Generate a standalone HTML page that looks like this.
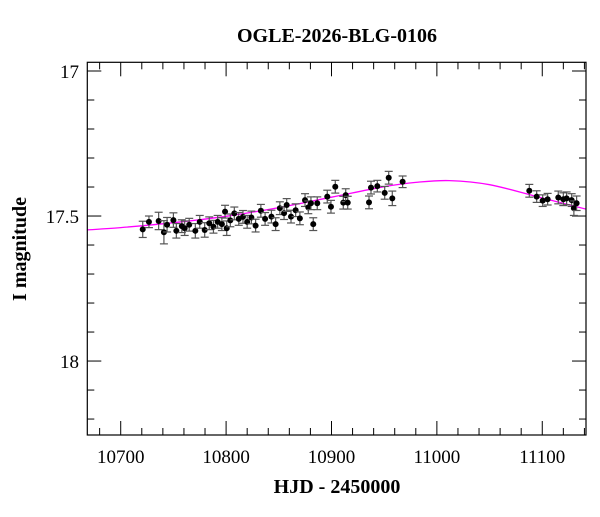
<!DOCTYPE html>
<html><head><meta charset="utf-8"><style>
body{margin:0;background:#fff;}
svg text{font-family:"Liberation Serif",serif;fill:#000;}
</style></head><body>
<svg id="chart" width="600" height="512" xmlns="http://www.w3.org/2000/svg">
<rect width="600" height="512" fill="#fff"/>
<text x="337" y="42" text-anchor="middle" font-size="20" font-weight="bold">OGLE-2026-BLG-0106</text>
<text x="337" y="493" text-anchor="middle" font-size="20" font-weight="bold">HJD - 2450000</text>
<text transform="translate(26,249) rotate(-90)" text-anchor="middle" font-size="20" font-weight="bold">I magnitude</text>
<g id="ticks"></g>
<g id="model"></g>
<g id="pts"></g>
<rect x="87.3" y="62.3" width="498.7" height="372.7" fill="none" stroke="#000" stroke-width="1.2"/>
</svg>
<script>
const hjd=[10720.9,10726.8,10736,10741,10744,10750,10752.8,10758,10760.7,10765,10770.8,10775,10779.7,10784,10788,10792,10796,10799,10800.6,10804,10807.8,10812,10816,10820,10824,10828,10833,10837,10843,10847,10851,10855,10857.5,10861.6,10866,10870,10874.9,10878,10880.5,10882.7,10886.5,10896,10899.5,10903.6,10911.2,10913.5,10915.4,10935.6,10937.5,10943.5,10950.5,10954.3,10957.7,10967.5,11087.7,11094.7,11100.4,11105.1,11115.2,11120,11123.1,11127.9,11130,11132.6];
const mag=[17.546,17.52,17.517,17.556,17.53,17.514,17.551,17.535,17.542,17.53,17.551,17.52,17.548,17.525,17.537,17.52,17.528,17.485,17.542,17.515,17.491,17.51,17.503,17.52,17.505,17.533,17.482,17.51,17.502,17.528,17.473,17.49,17.462,17.502,17.48,17.508,17.445,17.47,17.456,17.528,17.456,17.433,17.468,17.399,17.454,17.428,17.454,17.453,17.402,17.397,17.42,17.368,17.439,17.382,17.413,17.433,17.447,17.442,17.436,17.442,17.439,17.445,17.473,17.456];
const err=[0.028,0.02,0.03,0.04,0.025,0.025,0.025,0.022,0.025,0.022,0.025,0.022,0.025,0.022,0.022,0.022,0.022,0.022,0.025,0.022,0.022,0.022,0.022,0.022,0.022,0.022,0.022,0.022,0.022,0.022,0.022,0.022,0.022,0.022,0.022,0.022,0.022,0.022,0.022,0.022,0.022,0.022,0.022,0.022,0.022,0.022,0.022,0.022,0.022,0.02,0.022,0.022,0.025,0.02,0.022,0.02,0.02,0.02,0.022,0.022,0.022,0.022,0.025,0.025];
const modelT=[10650,10700,10750,10800,10850,10900,10950,10980,11012,11050,11100,11150];
const modelM=[17.552,17.54,17.523,17.501,17.471,17.435,17.399,17.384,17.378,17.392,17.438,17.484];
const xTicks=[10700,10800,10900,11000,11100];
const yTicks=[17,17.5,18];
const X0=10668.3,X1=11141.5,PX0=87.3,PX1=586;
const Y0=16.97,Y1=18.255,PY0=62.3,PY1=435;
function sx(v){return PX0+(v-X0)/(X1-X0)*(PX1-PX0);}
function sy(v){return PY0+(v-Y0)/(Y1-Y0)*(PY1-PY0);}
const NS="http://www.w3.org/2000/svg";
function mk(tag,attrs,parent){const e=document.createElementNS(NS,tag);for(const k in attrs)e.setAttribute(k,attrs[k]);parent.appendChild(e);return e;}
const tg=document.getElementById('ticks');
for(let v=10680;v<=11140;v+=20){
  const maj=xTicks.includes(v);const L=maj?14:7;const x=sx(v);
  const t1=mk('line',{x1:x,x2:x,y1:PY1,y2:PY1-L,stroke:'#000'},tg);
  
  
  const t2=mk('line',{x1:x,x2:x,y1:PY0,y2:PY0+L,stroke:'#000'},tg);
  
  
}
xTicks.forEach(v=>{const t=mk('text',{x:sx(v),y:463,'text-anchor':'middle','font-size':'19'},tg);t.textContent=v;
  
  });
for(let i=0;i<=12;i++){const v=17+i*0.1;const maj=Math.abs(v*2-Math.round(v*2))<1e-6;const L=maj?14:7;const y=sy(v);
  const t1=mk('line',{x1:PX0,x2:PX0+L,y1:y,y2:y,stroke:'#000'},tg);
  
  
  const t2=mk('line',{x1:PX1,x2:PX1-L,y1:y,y2:y,stroke:'#000'},tg);
  
  }
yTicks.forEach(v=>{const t=mk('text',{x:79,y:sy(v)+7,'text-anchor':'end','font-size':'19'},tg);t.textContent=String(v);
  
  });
const mg=document.getElementById('model');
// Catmull-Rom smoothing through model samples
const P=modelT.map((t,i)=>[sx(t),sy(modelM[i])]);
let d='M'+P[0][0].toFixed(1)+','+P[0][1].toFixed(1);
for(let i=0;i<P.length-1;i++){const p0=P[Math.max(0,i-1)],p1=P[i],p2=P[i+1],p3=P[Math.min(P.length-1,i+2)];
  const c1=[p1[0]+(p2[0]-p0[0])/6,p1[1]+(p2[1]-p0[1])/6],c2=[p2[0]-(p3[0]-p1[0])/6,p2[1]-(p3[1]-p1[1])/6];
  d+='C'+c1[0].toFixed(1)+','+c1[1].toFixed(1)+' '+c2[0].toFixed(1)+','+c2[1].toFixed(1)+' '+p2[0].toFixed(1)+','+p2[1].toFixed(1);}
mk('clipPath',{id:'clip'},mg);
document.getElementById('clip').appendChild(document.createElementNS(NS,'rect'));
const cr=document.querySelector('#clip rect');cr.setAttribute('x',PX0);cr.setAttribute('y',PY0);cr.setAttribute('width',PX1-PX0);cr.setAttribute('height',PY1-PY0);
const p=mk('path',{d:d,fill:'none',stroke:'#ff00ff','stroke-width':'1.3','clip-path':'url(#clip)'},mg);


const pg=document.getElementById('pts');
hjd.forEach((t,i)=>{const x=sx(t),y=sy(mag[i]),yt=sy(mag[i]-err[i]),yb=sy(mag[i]+err[i]);
  const g=mk('g',{},pg);
  
  
  mk('line',{x1:x,x2:x,y1:yt,y2:yb,stroke:'#555','stroke-width':'1.2'},g);
  mk('line',{x1:x-4,x2:x+4,y1:yt,y2:yt,stroke:'#555','stroke-width':'1.2'},g);
  mk('line',{x1:x-4,x2:x+4,y1:yb,y2:yb,stroke:'#555','stroke-width':'1.2'},g);
  mk('circle',{cx:x,cy:y,r:3,fill:'#000'},g);
});
</script>
</body></html>
